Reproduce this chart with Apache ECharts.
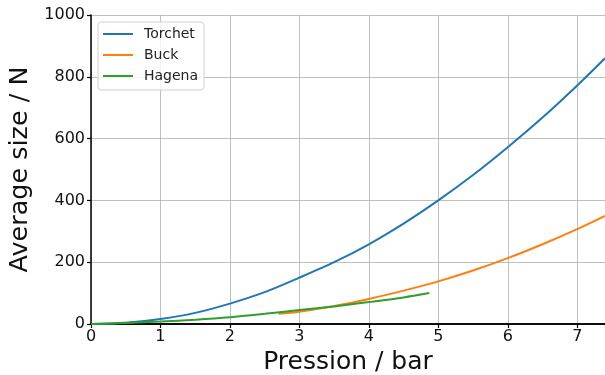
<!DOCTYPE html>
<html><head><meta charset="utf-8">
<script src="https://cdn.jsdelivr.net/npm/echarts@6/dist/echarts.min.js"></script>
<style>html,body{margin:0;padding:0;background:#fff}#c{width:605px;height:375px}</style>
</head><body><div id="c"></div>
<script>
const seriesNames = ['Torchet', 'Buck', 'Hagena'];
const torchetX = [0, 0.5, 1, 1.5, 2, 2.5, 3, 3.5, 4, 4.5, 5, 5.5, 6, 6.5, 7, 7.4];
const torchetY = [0, 4, 16, 36, 66, 103, 150, 200, 258, 325, 400, 482, 572, 668, 772, 860];
const buckX = [2.7, 3, 3.5, 4, 4.5, 5, 5.5, 6, 6.5, 7, 7.4];
const buckY = [33, 40, 58, 81, 108, 138, 173, 213, 258, 307, 350];
const hagenaX = [0, 0.5, 1, 1.5, 2, 2.5, 3, 3.5, 4, 4.5, 4.87];
const hagenaY = [0, 3, 8, 14, 22, 33, 45, 57, 71, 86, 100];
const colors = ['#1f77b4', '#ff7f0e', '#2ca02c'];
const pair = (xs, ys) => xs.map((x, i) => [x, ys[i]]);
const font = 'DejaVu Sans';
const chart = echarts.init(document.getElementById('c'), null, {renderer: 'canvas'});
chart.setOption({
  animation: false,
  grid: {left: 91, top: 15, right: 0, bottom: 51, containLabel: false, outerBoundsMode: 'none'},
  legend: {
    left: 98, top: 22, orient: 'vertical', itemWidth: 30, itemHeight: 2, itemGap: 7,
    padding: [5, 6, 7, 5], borderColor: '#d0d0d0', borderWidth: 1, borderRadius: 3,
    backgroundColor: 'rgba(255,255,255,0.8)',
    textStyle: {fontFamily: font, fontSize: 14, lineHeight: 14, color: '#222', padding: [0, 0, 0, 6]},
    icon: 'rect', data: seriesNames
  },
  xAxis: [{
    type: 'value', min: 0, max: 7.4, interval: 1,
    name: 'Pression / bar', nameLocation: 'middle', nameGap: 26,
    nameTextStyle: {fontFamily: font, fontSize: 25, color: '#111'},
    axisLine: {show: true, onZero: false, lineStyle: {color: '#000', width: 1.5}},
    axisTick: {show: true, length: 4, lineStyle: {color: '#000', width: 1.2}},
    axisLabel: {fontFamily: font, fontSize: 16, color: '#111', margin: 5,
      formatter: v => Number.isInteger(v) ? String(v) : ''},
    splitLine: {show: true, lineStyle: {color: '#b0b0b0', width: 0.8}}
  }, {
    type: 'value', position: 'top', min: 0, max: 7.4,
    axisLine: {show: true, lineStyle: {color: '#000', width: 1.5}},
    axisTick: {show: false}, axisLabel: {show: false}, splitLine: {show: false}
  }],
  yAxis: {
    type: 'value', min: 0, max: 1000, interval: 200,
    name: 'Average size / N', nameLocation: 'middle', nameGap: 48,
    nameTextStyle: {fontFamily: font, fontSize: 25.5, color: '#111'},
    axisLine: {show: true, lineStyle: {color: '#000', width: 1.5}},
    axisTick: {show: true, length: 4, lineStyle: {color: '#000', width: 1.2}},
    axisLabel: {fontFamily: font, fontSize: 16, color: '#111', margin: 6, formatter: v => String(v)},
    splitLine: {show: true, lineStyle: {color: '#b0b0b0', width: 0.8}}
  },
  series: [
    {name: seriesNames[0], type: 'line', data: pair(torchetX, torchetY), smooth: 0.3, showSymbol: false, lineStyle: {width: 2, color: colors[0]}, itemStyle: {color: colors[0]}, z: 3},
    {name: seriesNames[1], type: 'line', data: pair(buckX, buckY), smooth: 0.3, showSymbol: false, lineStyle: {width: 2, color: colors[1]}, itemStyle: {color: colors[1]}, z: 4},
    {name: seriesNames[2], type: 'line', data: pair(hagenaX, hagenaY), smooth: 0.3, showSymbol: false, lineStyle: {width: 2, color: colors[2]}, itemStyle: {color: colors[2]}, z: 5}
  ]
});
</script></body></html>
